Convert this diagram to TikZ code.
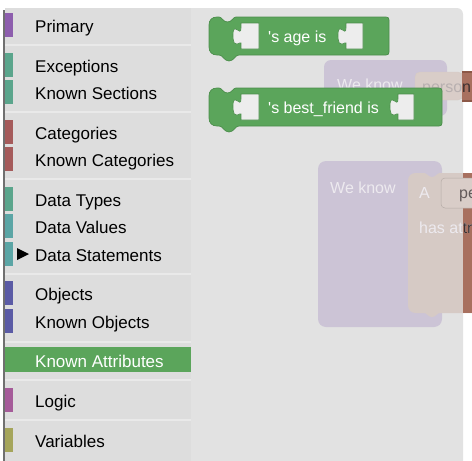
\documentclass[tikz,border=0pt]{standalone}
\usepackage{fontspec}
\setmainfont{Liberation Sans}

\definecolor{toolboxgray}{HTML}{DDDDDD}
\definecolor{workgray}{HTML}{E2E2E2}
\definecolor{sepgray}{HTML}{E9E9E9}
\definecolor{edgegray}{HTML}{707070}
\definecolor{catpurple}{HTML}{8D5EAD}
\definecolor{catteal}{HTML}{5BA58C}
\definecolor{catred}{HTML}{A55B5B}
\definecolor{catcyan}{HTML}{5BA5A5}
\definecolor{catblue}{HTML}{5B5BA5}
\definecolor{catgreen}{HTML}{5BA55B}
\definecolor{catmagenta}{HTML}{A55B99}
\definecolor{catolive}{HTML}{A5A55B}
\definecolor{blockedge}{HTML}{4C8E4C}
\definecolor{slotfill}{HTML}{EDEDED}
\definecolor{ghostpurple}{HTML}{CCC4D6}
\definecolor{ghostbeige}{HTML}{D6CAC5}
\definecolor{fieldbeige}{HTML}{D9CDC8}
\definecolor{ghostbrown}{HTML}{A8705F}
\definecolor{browndark}{HTML}{8C5847}
\definecolor{ghostwhite}{HTML}{EDEAEF}
\definecolor{ghostgray}{HTML}{B8B0B0}
\definecolor{darktext}{HTML}{3C3030}

% green puzzle block: x, y, width
\newcommand{\greenblock}[3]{%
  \filldraw[block, shift={(#1,#2)}] (0,8) .. controls (0,3) and (3,0) .. (8,0) -- (10,0) .. controls (13,0) and (14,5) .. (18.5,5) .. controls (23,5) and (24,0) .. (27,0) -- (#3-3,0) .. controls (#3-1,0) and (#3,1) .. (#3,3) -- (#3,35) .. controls (#3,37) and (#3-1,38) .. (#3-3,38) -- (30,38) .. controls (26,38) and (25,44) .. (20,44) .. controls (15,44) and (14,38) .. (10,38) -- (8,38) .. controls (3,38) and (0,35) .. (0,30) -- cycle;}
% empty value input: x, y, width
\newcommand{\emptyslot}[3]{%
  \filldraw[slot, shift={(#1,#2)}] (#3,0) -- (0,0) -- (0,5) .. controls (0,15) and (-8,-3) .. (-8,12.5) .. controls (-8,28) and (0,17.5) .. (0,20) -- (0,26) -- (#3,26) -- cycle;}

\begin{document}
\begin{tikzpicture}[x=1pt,y=-1pt,
  cat/.style={anchor=base west, inner sep=0, font=\fontsize{17}{20}\selectfont, text=black},
  blocktext/.style={anchor=base west, inner sep=0, font=\fontsize{16}{19}\selectfont, text=white},
  ghosttext/.style={blocktext, text=ghostwhite},
  sep/.style={draw=sepgray, line width=1.5pt},
  block/.style={fill=catgreen, draw=blockedge, line width=0.7pt},
  slot/.style={fill=slotfill, draw=blockedge, line width=0.6pt}]
\useasboundingbox (0,0) rectangle (472,461);
\clip (0,0) rectangle (472,461);

% toolbox and workspace
\fill[toolboxgray] (5,8) rectangle (191,461);
\draw[edgegray, line width=1.3pt] (4,10) -- (4,461);
\fill[workgray] (191,8) -- (457,8) .. controls (460.3,8) and (463,10.7) .. (463,14) -- (463,461) -- (191,461) -- cycle;
\draw[sep] (5,45) -- (191,45) (5,112) -- (191,112) (5,179) -- (191,179) (5,274) -- (191,274) (5,342) -- (191,342) (5,380) -- (191,380) (5,420) -- (191,420);

\fill[catpurple] (5,12.5) rectangle (13,36.5);
\node[cat] (primary) at (35,32) {Primary};
\fill[catteal] (5,52.5) rectangle (13,76.5);
\node[cat] (exceptions) at (35,72) {Exceptions};
\fill[catteal] (5,79.5) rectangle (13,103.5);
\node[cat] (knownsections) at (35,99) {Known Sections};
\fill[catred] (5,119.5) rectangle (13,143.5);
\node[cat] (categories) at (35,139) {Categories};
\fill[catred] (5,146.5) rectangle (13,170.5);
\node[cat] (knowncategories) at (35,166) {Known Categories};
\fill[catteal] (5,186.5) rectangle (13,210.5);
\node[cat] (datatypes) at (35,206) {Data Types};
\fill[catcyan] (5,213.5) rectangle (13,237.5);
\node[cat] (datavalues) at (35,233) {Data Values};
\fill[catcyan] (5,241.5) rectangle (13,265.5);
\fill (17,248) -- (29,254) -- (17,260) -- cycle;
\node[cat] (datastatements) at (35,261) {Data Statements};
\fill[catblue] (5,280.5) rectangle (13,304.5);
\node[cat] (objects) at (35,300) {Objects};
\fill[catblue] (5,308.5) rectangle (13,332.5);
\node[cat] (knownobjects) at (35,328) {Known Objects};
\fill[catgreen] (5,347) rectangle (191,372);
\node[cat, text=white] (knownattributes) at (35,367) {Known Attributes};
\fill[catmagenta] (5,387.5) rectangle (13,411.5);
\node[cat] (logic) at (35,407) {Logic};
\fill[catolive] (5,427.5) rectangle (13,451.5);
\node[cat] (variables) at (35,447) {Variables};

% faded blocks behind
\fill[ghostpurple, rounded corners=7] (324,60) rectangle (447,116);
\node[ghosttext] (weknowtop) at (337,90) {We know};
\filldraw[fill=fieldbeige, draw=ghostbeige, rounded corners=5] (415,72) rectangle (463,100);
\node[blocktext, text=ghostgray] (persontop) at (422,92) {person};
\fill[ghostbrown] (462,71) rectangle (472,102);
\draw[browndark, line width=1.5pt] (462,72) -- (472,72) (462,101) -- (472,101);
\begin{scope}
\clip (462,60) rectangle (472,110);
\node[blocktext, text=darktext] (persondark) at (422,92) {person};
\end{scope}

\fill[ghostpurple, rounded corners=8] (318,161) rectangle (442,327);
\node[ghosttext] (weknow) at (330,193) {We know};
\fill[ghostbeige] (408,181) .. controls (408,176) and (411,173) .. (416,173) -- (424,173) .. controls (427,173) and (428,177) .. (432,177) .. controls (436,177) and (437,173) .. (440,173) -- (472,173) -- (472,313) -- (440,313) .. controls (437,313) and (436,317) .. (432,317) .. controls (428,317) and (427,313) .. (424,313) -- (416,313) .. controls (411,313) and (408,310) .. (408,305) -- cycle;
\fill[ghostbrown] (463,173) rectangle (472,313);
\filldraw[fill=fieldbeige, draw=ghostbeige!85!black, line width=0.5pt, rounded corners=4] (441,178) rectangle (480,208);
\node[ghosttext] (atext) at (419,198) {A};
\node[blocktext, text=darktext!80] (petext) at (459,198) {person};
\node[ghosttext] (hasattr) at (419,233) {has attr};
\begin{scope}
\clip (463,215) rectangle (472,245);
\node[blocktext, text=darktext] (hasattrdark) at (419,233) {has attr};
\end{scope}

% green blocks
\greenblock{209}{17}{180}
\emptyslot{241}{23}{18}
\emptyslot{346}{23}{17}
\node[blocktext] (agetext) at (268,42) {\textquotesingle s age is};
\greenblock{209}{88}{233}
\emptyslot{241}{94}{18}
\emptyslot{398}{94}{16}
\node[blocktext] (friendtext) at (268,113) {\textquotesingle s best\_friend is};
\end{tikzpicture}
\end{document}
